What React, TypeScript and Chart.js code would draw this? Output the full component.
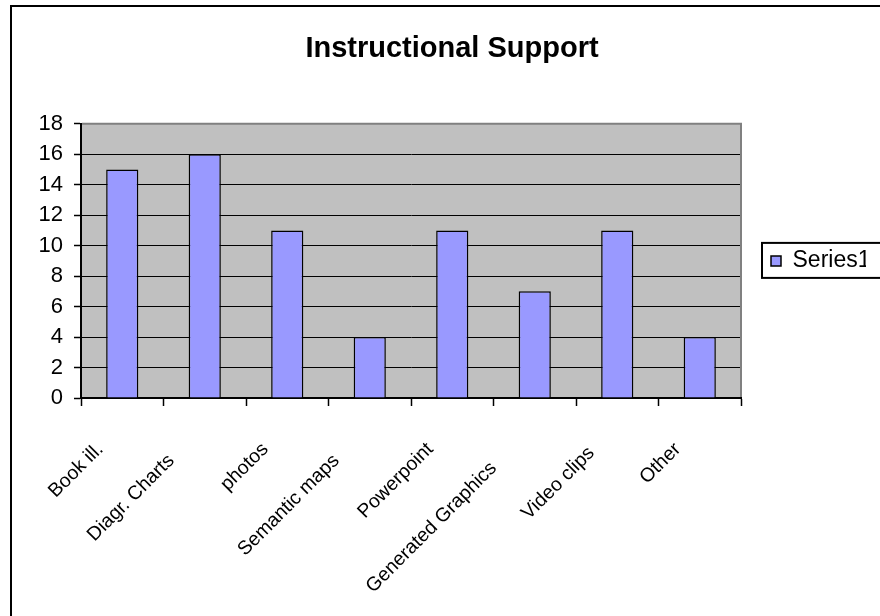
import React, { useEffect, useRef } from "react";
import { Chart, registerables } from "chart.js";

Chart.register(...registerables);

// ---- data ----
const chartTitle = "Instructional Support";
const seriesName = "Series1";
const categories = [
  "Book ill.",
  "Diagr. Charts   ",
  "photos",
  "Semantic maps   ",
  "Powerpoint",
  "Generated Graphics     ",
  "Video clips ",
  "Other",
];
const series1 = [15, 16, 11, 4, 11, 7, 11, 4];
const yMin = 0;
const yMax = 18;
const yStep = 2;

const FONT = "'Liberation Sans', Arial, Helvetica, sans-serif";

const excelPlot = {
  id: "excelPlot",
  beforeDraw(chart: any) {
    const { ctx, chartArea: a } = chart;
    ctx.save();
    ctx.fillStyle = "#C0C0C0";
    ctx.fillRect(a.left, a.top, a.right - a.left, a.bottom - a.top);
    ctx.restore();
  },
  afterDatasetsDraw(chart: any) {
    const { ctx, chartArea: a } = chart;
    ctx.save();
    ctx.strokeStyle = "#808080";
    ctx.lineWidth = 2;
    ctx.beginPath();
    ctx.moveTo(a.left + 1, a.top);
    ctx.lineTo(a.right, a.top);
    ctx.lineTo(a.right, a.bottom - 1);
    ctx.stroke();
    ctx.restore();
  },
  afterDraw(chart: any) {
    const lg = chart.legend;
    if (!lg) return;
    const { ctx } = chart;
    const cy = (lg.top + lg.bottom) / 2;
    ctx.save();
    ctx.strokeStyle = "#000";
    ctx.lineWidth = 2;
    ctx.strokeRect(lg.left + 21, cy - 18, 200, 35);
    ctx.restore();
  },
};

export default function App() {
  const ref = useRef<HTMLCanvasElement | null>(null);

  useEffect(() => {
    if (!ref.current) return;
    const chart = new Chart(ref.current, {
      type: "bar",
      data: {
        labels: categories,
        datasets: [
          {
            label: seriesName,
            data: series1,
            backgroundColor: "#9999FF",
            borderColor: "#000000",
            borderWidth: 1.5,
            categoryPercentage: 1,
            barPercentage: 0.39,
          },
        ],
      },
      options: {
        responsive: false,
        animation: false,
        devicePixelRatio: 1,
        layout: { padding: { left: 38, right: 14, top: 0, bottom: 0 } },
        plugins: {
          title: {
            display: true,
            text: chartTitle,
            color: "#000",
            font: { family: FONT, size: 29, weight: "bold" },
            padding: { top: 32, bottom: 57 },
          },
          legend: {
            position: "right",
            fullSize: false,
            maxWidth: 125,
            labels: {
              color: "#000",
              font: { family: FONT, size: 23 },
              boxWidth: 10,
              boxHeight: 10,
              padding: 30,
            },
          },
          tooltip: { enabled: false },
        },
        scales: {
          x: {
            offset: true,
            grid: {
              display: true,
              drawOnChartArea: false,
              drawTicks: true,
              tickLength: 8,
              tickColor: "#000",
              tickWidth: 1.5,
              offset: true,
            },
            border: { display: true, color: "#000", width: 2 },
            ticks: {
              autoSkip: false,
              minRotation: 45,
              maxRotation: 45,
              labelOffset: -22,
              padding: 32,
              color: "#000",
              font: { family: FONT, size: 19.5 },
            },
            afterFit: (s: any) => {
              s.height = 218;
            },
          },
          y: {
            min: yMin,
            max: yMax,
            ticks: {
              stepSize: yStep,
              padding: 11,
              color: "#000",
              font: { family: FONT, size: 22 },
            },
            grid: {
              color: "#000",
              lineWidth: 1,
              tickLength: 7,
              tickColor: "#000",
              tickWidth: 1.5,
            },
            border: { display: true, color: "#000", width: 2 },
            afterFit: (s: any) => {
              s.width = 43;
            },
          },
        },
      },
      plugins: [excelPlot],
    } as any);
    return () => chart.destroy();
  }, []);

  return (
    <div style={{ position: "fixed", left: 0, top: 0, width: 880, height: 616, background: "#fff" }}>
      <div
        style={{
          position: "absolute",
          left: 10,
          top: 5,
          width: 870,
          height: 611,
          borderTop: "2px solid #000",
          borderLeft: "2px solid #000",
          boxSizing: "border-box",
        }}
      />
      <canvas
        ref={ref}
        width={880}
        height={616}
        style={{ position: "absolute", left: 0, top: 0, width: 880, height: 616 }}
      />
    </div>
  );
}
